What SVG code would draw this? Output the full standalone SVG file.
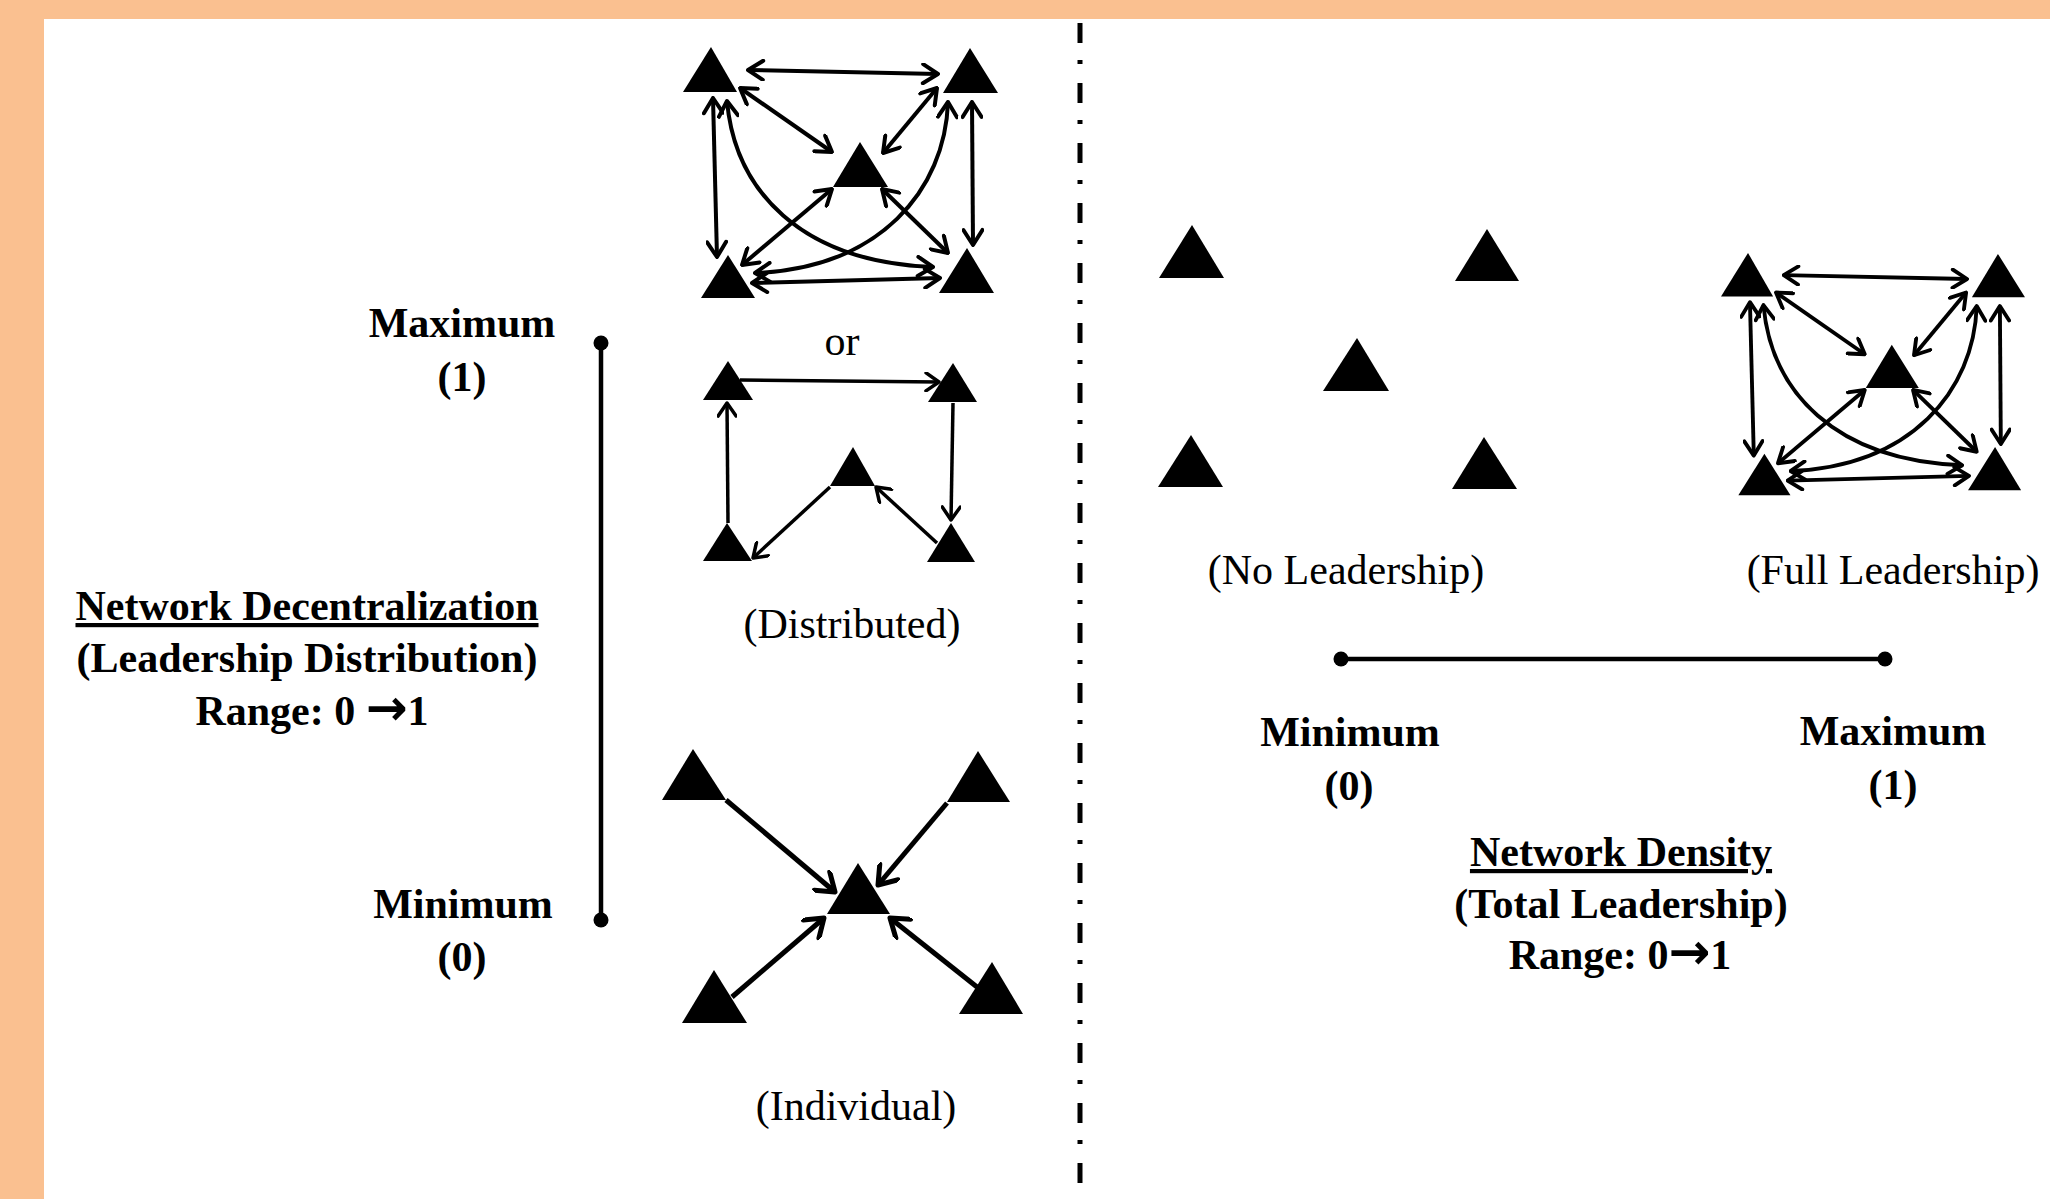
<svg xmlns="http://www.w3.org/2000/svg" width="2050" height="1199" viewBox="0 0 2050 1199">
<style>
.tri{fill:#000}
.lbl{font-family:"Liberation Serif","Times New Roman",serif;font-size:42px;fill:#000;text-anchor:middle}
.b{font-weight:bold}
.u{text-decoration:underline}
.arr{font-family:"DejaVu Sans",sans-serif;font-weight:bold;font-size:50px}
.e1{fill:none;stroke:#000;stroke-width:4;marker-start:url(#ah);marker-end:url(#ah)}
.e2{fill:none;stroke:#000;stroke-width:3.5;marker-end:url(#ah2)}
.e3{fill:none;stroke:#000;stroke-width:5;marker-end:url(#ah3)}
.scale{stroke:#000;stroke-width:4.5;fill:none}
</style>
<defs>
<marker id="ah" viewBox="0 0 22 22" refX="20" refY="11" markerWidth="22" markerHeight="22" markerUnits="userSpaceOnUse" orient="auto-start-reverse">
<path d="M5,1.5 L20,11 L5,20.5" fill="none" stroke="#000" stroke-width="4" stroke-linecap="round" stroke-linejoin="round"/>
</marker>
<marker id="ah2" viewBox="0 0 20 20" refX="18" refY="10" markerWidth="20" markerHeight="20" markerUnits="userSpaceOnUse" orient="auto">
<path d="M5,1 L18,10 L5,19" fill="none" stroke="#000" stroke-width="3.5" stroke-linecap="round" stroke-linejoin="round"/>
</marker>
<marker id="ah3" viewBox="0 0 26 26" refX="23" refY="13" markerWidth="26" markerHeight="26" markerUnits="userSpaceOnUse" orient="auto">
<path d="M6,1 L23,13 L6,25" fill="none" stroke="#000" stroke-width="5" stroke-linecap="round" stroke-linejoin="round"/>
</marker>
</defs>
<rect x="0" y="0" width="2050" height="1199" fill="#fff"/>
<rect x="0" y="0" width="2050" height="19" fill="#FAC090"/>
<rect x="0" y="0" width="44" height="1199" fill="#FAC090"/>
<line x1="1080" y1="23" x2="1080" y2="1199" stroke="#000" stroke-width="5" stroke-dasharray="20 17 4 19"/>

<!-- Distributed (full mesh) -->
<g id="mesh-left">
<g id="ml-tl"><polygon class="tri" points="711,47 683,92 737,92"/></g>
<g id="ml-tr"><polygon class="tri" points="970,48 943,93 998,93"/></g>
<g id="ml-c"><polygon class="tri" points="860,142 833,187 888,187"/></g>
<g id="ml-bl"><polygon class="tri" points="728,255 701,298 755,298"/></g>
<g id="ml-br"><polygon class="tri" points="967,248 939,293 994,293"/></g>
<g id="ml-edges">
<path class="e1" d="M748,70 L938,74"/>
<path class="e1" d="M740,88 L832,152"/>
<path class="e1" d="M937,88 L883,153"/>
<path class="e1" d="M713,98 L717,257"/>
<path class="e1" d="M972,102 L973,245"/>
<path class="e1" d="M832,189 L742,265"/>
<path class="e1" d="M882,189 L948,253"/>
<path class="e1" d="M752,283 L940,278"/>
<path class="e1" d="M727,101 C735,190 800,262 933,267"/>
<path class="e1" d="M948,102 C945,190 880,268 755,273"/>
</g>
</g>

<text class="lbl" x="842" y="355">or</text>

<!-- Distributed (cycle) -->
<g id="cycle">
<g id="cy-tl"><polygon class="tri" points="728,361 703,400 753,400"/></g>
<g id="cy-tr"><polygon class="tri" points="953,363 928,402 977,402"/></g>
<g id="cy-c"><polygon class="tri" points="853,447 830,486 875,486"/></g>
<g id="cy-bl"><polygon class="tri" points="727,523 703,561 752,561"/></g>
<g id="cy-br"><polygon class="tri" points="951,523 927,562 975,562"/></g>
<g id="cy-edges">
<path class="e2" d="M740,380 L939,382"/>
<path class="e2" d="M953,403 L951,520"/>
<path class="e2" d="M937,543 L876,487"/>
<path class="e2" d="M830,487 L753,558"/>
<path class="e2" d="M728,523 L727,403"/>
</g>
</g>
<text class="lbl" x="852" y="638">(Distributed)</text>

<!-- Individual -->
<g id="individual">
<g id="in-tl"><polygon class="tri" points="693,749 662,800 726,800"/></g>
<g id="in-tr"><polygon class="tri" points="978,751 947,802 1010,802"/></g>
<g id="in-c"><polygon class="tri" points="858,863 827,914 890,914"/></g>
<g id="in-bl"><polygon class="tri" points="714,970 682,1023 747,1023"/></g>
<g id="in-br"><polygon class="tri" points="992,962 959,1014 1023,1014"/></g>
<g id="in-edges">
<path class="e3" d="M726,800 L835,892"/>
<path class="e3" d="M947,803 L878,885"/>
<path class="e3" d="M732,997 L824,918"/>
<path class="e3" d="M977,987 L890,918"/>
</g>
</g>
<text class="lbl" x="856" y="1120">(Individual)</text>

<!-- Left scale -->
<g id="decentral-scale">
<line class="scale" x1="601" y1="343" x2="601" y2="920"/>
<circle cx="601" cy="343" r="7.5"/>
<circle cx="601" cy="920" r="7.5"/>
</g>
<text class="lbl b" x="462" y="337">Maximum</text>
<text class="lbl b" x="462" y="391">(1)</text>
<text class="lbl b" x="463" y="918">Minimum</text>
<text class="lbl b" x="462" y="971">(0)</text>
<text class="lbl b u" x="307" y="620">Network Decentralization</text>
<text class="lbl b" x="307" y="672">(Leadership Distribution)</text>
<text class="lbl b" x="312" y="725">Range: 0 <tspan class="arr">→</tspan>1</text>

<!-- No leadership -->
<g id="none">
<g id="no-tl"><polygon class="tri" points="1192,225 1159,278 1224,278"/></g>
<g id="no-tr"><polygon class="tri" points="1487,229 1455,281 1519,281"/></g>
<g id="no-c"><polygon class="tri" points="1357,338 1323,391 1389,391"/></g>
<g id="no-bl"><polygon class="tri" points="1191,435 1158,487 1223,487"/></g>
<g id="no-br"><polygon class="tri" points="1484,437 1452,489 1517,489"/></g>
</g>
<text class="lbl" x="1346" y="584">(No Leadership)</text>

<!-- Full leadership -->
<g id="full" transform="matrix(0.965 0 0 0.965 1061.9 207.6)">
<g id="fu-tl"><polygon class="tri" points="711,47 683,92 737,92"/></g>
<g id="fu-tr"><polygon class="tri" points="970,48 943,93 998,93"/></g>
<g id="fu-c"><polygon class="tri" points="860,142 833,187 888,187"/></g>
<g id="fu-bl"><polygon class="tri" points="728,255 701,298 755,298"/></g>
<g id="fu-br"><polygon class="tri" points="967,248 939,293 994,293"/></g>
<g id="fu-edges">
<path class="e1" d="M748,70 L938,74"/>
<path class="e1" d="M740,88 L832,152"/>
<path class="e1" d="M937,88 L883,153"/>
<path class="e1" d="M713,98 L717,257"/>
<path class="e1" d="M972,102 L973,245"/>
<path class="e1" d="M832,189 L742,265"/>
<path class="e1" d="M882,189 L948,253"/>
<path class="e1" d="M752,283 L940,278"/>
<path class="e1" d="M727,101 C735,190 800,262 933,267"/>
<path class="e1" d="M948,102 C945,190 880,268 755,273"/>
</g>
</g>
<text class="lbl" x="1893" y="584">(Full Leadership)</text>

<!-- Right scale -->
<g id="density-scale">
<line class="scale" x1="1341" y1="659" x2="1885" y2="659"/>
<circle cx="1341" cy="659" r="7.5"/>
<circle cx="1885" cy="659" r="7.5"/>
</g>
<text class="lbl b" x="1350" y="746">Minimum</text>
<text class="lbl b" x="1349" y="800">(0)</text>
<text class="lbl b" x="1893" y="745">Maximum</text>
<text class="lbl b" x="1893" y="799">(1)</text>
<text class="lbl b u" x="1621" y="866">Network Density</text>
<text class="lbl b" x="1621" y="918">(Total Leadership)</text>
<text class="lbl b" x="1620" y="969">Range: 0<tspan class="arr">→</tspan>1</text>
</svg>
